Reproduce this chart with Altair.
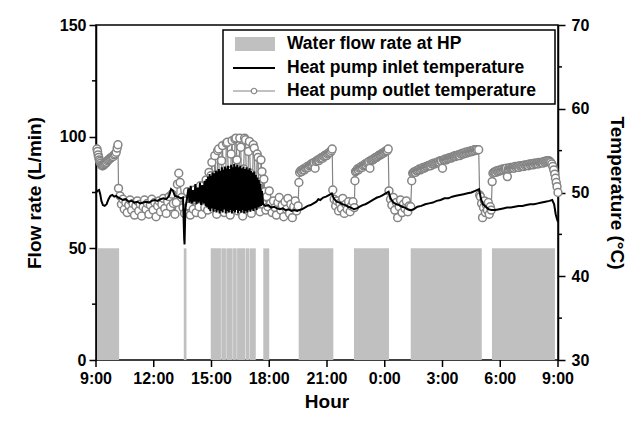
import altair as alt
import pandas as pd

# ---------------- data ----------------
bar_start = [9.05, 13.56, 14.96, 15.51, 15.77, 16.12, 16.33, 16.78, 16.97, 17.69, 19.53, 22.40, 25.35, 29.57]
bar_end   = [10.20, 13.70, 15.49, 15.75, 16.10, 16.31, 16.76, 16.95, 17.30, 18.00, 21.33, 24.22, 29.04, 32.84]
bar_flow  = [50, 50, 50, 50, 50, 50, 50, 50, 50, 50, 50, 50, 50, 50]

inlet_hour = [
    9.00, 9.08, 9.16, 9.22, 9.28, 9.36, 9.45, 9.55, 9.65, 9.75, 9.85, 9.95, 10.05, 10.15,
    10.25, 10.40, 10.55, 10.70, 10.85, 11.00, 11.15, 11.30, 11.45, 11.60, 11.75, 11.90,
    12.05, 12.20, 12.35, 12.50, 12.65, 12.80, 12.90, 13.00, 13.10, 13.25, 13.40, 13.52,
    13.58, 13.60, 13.64,
    13.72, 13.80, 13.86, 13.92, 13.98, 14.04, 14.10, 14.16, 14.22, 14.28, 14.34, 14.40,
    14.46, 14.52, 14.58, 14.64, 14.70,
    14.74, 14.78, 14.82, 14.86, 14.90, 14.94, 14.98, 15.02, 15.06, 15.10, 15.14, 15.18,
    15.22, 15.26, 15.30, 15.34, 15.38, 15.42, 15.46, 15.50, 15.54, 15.58, 15.62, 15.66,
    15.70, 15.74, 15.78, 15.82, 15.86, 15.90, 15.94, 15.98, 16.02, 16.06, 16.10, 16.14,
    16.18, 16.22, 16.26, 16.30, 16.34, 16.38, 16.42, 16.46, 16.50, 16.54, 16.58, 16.62,
    16.66, 16.70, 16.74, 16.78, 16.82, 16.86, 16.90, 16.94, 16.98, 17.02, 17.06, 17.10,
    17.14, 17.18, 17.22, 17.26, 17.30, 17.34, 17.38, 17.42, 17.46, 17.50, 17.54, 17.58,
    17.62, 17.68, 17.80, 17.95, 18.10, 18.25, 18.40, 18.55, 18.70, 18.85, 19.00,
    19.15, 19.30, 19.45, 19.55,
    19.70, 19.85, 20.00, 20.15, 20.30, 20.45, 20.55, 20.65, 20.80, 20.95, 21.10, 21.25,
    21.35, 21.50, 21.65, 21.80, 21.95, 22.10, 22.25, 22.40,
    22.55, 22.70, 22.85, 23.00, 23.15, 23.30, 23.45, 23.60, 23.75, 23.90, 24.05, 24.20,
    24.30, 24.45, 24.60, 24.75, 24.90, 25.05, 25.20, 25.35,
    25.50, 25.70, 25.90, 26.10, 26.30, 26.50, 26.70, 26.90, 27.10, 27.30, 27.50, 27.70,
    27.90, 28.10, 28.30, 28.50, 28.70, 28.90,
    29.00, 29.10, 29.25, 29.40, 29.55,
    29.75, 29.95, 30.15, 30.35, 30.55, 30.75, 30.95, 31.15, 31.35, 31.55, 31.75, 31.95,
    32.15, 32.35, 32.55, 32.70, 32.80, 32.88, 32.95, 33.00]
inlet_temp = [
    50.0, 50.2, 50.3, 49.8, 49.0, 48.5, 48.4, 48.6, 49.2, 49.6, 49.7, 49.5, 49.6, 49.4,
    49.3, 49.1, 49.2, 48.9, 49.0, 48.8, 48.9, 48.7, 48.8, 48.9, 48.8, 49.0,
    49.1, 49.0, 49.2, 49.3, 49.2, 49.6, 50.4, 50.2, 49.6, 49.5, 49.3, 49.4,
    44.5, 43.8, 48.0,
    49.2, 50.5, 48.8, 50.8, 48.7, 50.3, 48.9, 51.0, 48.6, 50.6, 48.8, 51.2,
    48.5, 50.9, 48.7, 51.4, 48.4,
    51.6, 48.2, 51.9, 48.0, 52.2, 47.8, 52.0, 48.1, 52.4, 47.7, 52.3, 48.0,
    52.6, 47.6, 52.5, 47.9, 52.8, 47.5, 52.6, 47.8, 53.0, 47.6, 52.7, 48.0,
    53.1, 47.5, 52.9, 47.8, 53.2, 47.6, 52.8, 47.9, 53.3, 47.5, 53.0, 47.8,
    53.4, 47.6, 53.1, 47.9, 53.3, 47.5, 53.0, 47.8, 53.2, 47.6, 52.9, 47.9,
    53.1, 47.5, 52.8, 47.8, 53.0, 47.6, 52.7, 47.9, 52.9, 47.7, 52.6, 48.0,
    52.4, 47.8, 52.5, 48.1, 52.1, 47.9, 51.8, 48.2, 51.5, 48.3, 51.0, 48.4,
    50.2, 48.6, 48.4, 48.5, 48.2, 48.3, 48.1, 48.0, 48.1, 47.9, 48.0,
    47.8, 47.9, 47.8, 47.9,
    48.0, 48.2, 48.4, 48.5, 48.7, 48.9, 49.2, 49.1, 49.4, 49.5, 49.7, 49.9,
    49.3, 48.9, 48.8, 48.6, 48.5, 48.3, 48.2, 48.0,
    48.1, 48.3, 48.5, 48.6, 48.8, 49.0, 49.2, 49.4, 49.5, 49.7, 49.9, 50.1,
    49.3, 48.8, 48.6, 48.5, 48.3, 48.2, 48.0, 47.9,
    48.0, 48.3, 48.4, 48.6, 48.7, 48.8, 49.0, 49.1, 49.3, 49.3, 49.5, 49.6,
    49.7, 49.8, 49.9, 50.0, 50.2, 50.4,
    49.2, 48.6, 48.3, 48.0, 47.9,
    47.9, 48.0, 48.1, 48.2, 48.2, 48.3, 48.4, 48.4, 48.5, 48.6, 48.6, 48.7,
    48.8, 48.9, 49.0, 49.1, 48.6, 47.4, 46.8, 46.5]

outlet_hour = [
    9.05, 9.08, 9.11, 9.14, 9.17, 9.20, 9.24, 9.28, 9.32, 9.36, 9.40, 9.45, 9.50, 9.55,
    9.60, 9.65, 9.70, 9.75, 9.80, 9.85, 9.90, 9.95, 10.00, 10.05, 10.10, 10.14, 10.17,
    10.25, 10.32, 10.40, 10.47, 10.55, 10.62, 10.70, 10.77, 10.85, 10.92, 11.00, 11.07, 11.15,
    11.22, 11.30, 11.37, 11.45, 11.52, 11.60, 11.67, 11.75, 11.82, 11.90, 11.97, 12.05, 12.12,
    12.20, 12.27, 12.35, 12.42, 12.50, 12.57, 12.65, 12.72, 12.80, 12.87, 12.95, 13.02, 13.10,
    13.17, 13.23, 13.30, 13.37, 13.45, 13.52, 13.60, 13.67, 13.75, 13.82, 13.90, 13.97, 14.05,
    14.12, 14.20, 14.27, 14.35, 14.42, 14.50, 14.57, 14.65, 14.72, 14.80, 14.87,
    14.93, 14.97, 15.02, 15.07, 15.12, 15.17, 15.22, 15.27, 15.32, 15.37, 15.42, 15.47, 15.52,
    15.57, 15.62, 15.67, 15.72, 15.77, 15.82, 15.87, 15.92, 15.97, 16.02, 16.07, 16.12, 16.17,
    16.22, 16.27, 16.32, 16.37, 16.42, 16.47, 16.52, 16.57, 16.62, 16.67, 16.72, 16.77, 16.82,
    16.87, 16.92, 16.97, 17.02, 17.07, 17.12, 17.17, 17.22, 17.27, 17.32, 17.37, 17.42, 17.47,
    17.52, 17.57, 17.62, 17.67, 17.72, 17.77, 17.82, 17.87, 17.93, 18.00,
    18.07, 18.15, 18.22, 18.30, 18.37, 18.45, 18.52, 18.60, 18.67, 18.75, 18.82, 18.90, 18.97,
    19.05, 19.12, 19.20, 19.27, 19.35, 19.42, 19.50,
    19.54, 19.58, 19.63, 19.68, 19.73, 19.78, 19.83, 19.88, 19.93, 19.98, 20.03, 20.08, 20.13,
    20.18, 20.23, 20.28, 20.33, 20.38, 20.43, 20.48, 20.53, 20.58, 20.63, 20.68, 20.73, 20.78,
    20.83, 20.88, 20.93, 20.98, 21.03, 21.08, 21.13, 21.18, 21.23, 21.27,
    21.30,
    21.37, 21.45, 21.52, 21.60, 21.67, 21.75, 21.82, 21.90, 21.97, 22.05, 22.12, 22.20, 22.27,
    22.35, 22.42,
    22.45, 22.48, 22.53, 22.58, 22.63, 22.68, 22.73, 22.78, 22.83, 22.88, 22.93, 22.98, 23.03,
    23.08, 23.13, 23.18, 23.23, 23.28, 23.33, 23.38, 23.43, 23.48, 23.53, 23.58, 23.63, 23.68,
    23.73, 23.78, 23.83, 23.88, 23.93, 23.98, 24.03, 24.08, 24.13, 24.18,
    24.22,
    24.30, 24.37, 24.45, 24.52, 24.60, 24.67, 24.75, 24.82, 24.90, 24.97, 25.05, 25.12, 25.20,
    25.27, 25.35,
    25.40, 25.45, 25.50, 25.55, 25.60, 25.65, 25.70, 25.75, 25.80, 25.85, 25.90, 25.95, 26.00,
    26.05, 26.10, 26.15, 26.20, 26.25, 26.30, 26.35, 26.40, 26.45, 26.50, 26.55, 26.60, 26.65,
    26.70, 26.75, 26.80, 26.85, 26.90, 26.95, 27.00, 27.05, 27.10, 27.15, 27.20, 27.25, 27.30,
    27.35, 27.40, 27.45, 27.50, 27.55, 27.60, 27.65, 27.70, 27.75, 27.80, 27.85, 27.90, 27.95,
    28.00, 28.05, 28.10, 28.15, 28.20, 28.25, 28.30, 28.35, 28.40, 28.45, 28.50, 28.55, 28.60,
    28.65, 28.70, 28.75, 28.80, 28.88,
    28.93,
    28.97, 29.03, 29.08, 29.13, 29.18, 29.23, 29.28, 29.33, 29.38, 29.43, 29.48, 29.53,
    29.58, 29.62, 29.67, 29.72, 29.77, 29.82, 29.87, 29.92, 29.97, 30.02, 30.07, 30.12, 30.17,
    30.22, 30.27, 30.32, 30.37, 30.42, 30.47, 30.52, 30.57, 30.62, 30.67, 30.72, 30.77, 30.82,
    30.87, 30.92, 30.97, 31.02, 31.07, 31.12, 31.17, 31.22, 31.27, 31.32, 31.37, 31.42, 31.47,
    31.52, 31.57, 31.62, 31.67, 31.72, 31.77, 31.82, 31.87, 31.92, 31.97, 32.02, 32.07, 32.12,
    32.17, 32.22, 32.27, 32.32, 32.37, 32.42, 32.47, 32.52, 32.57, 32.62, 32.68, 32.73, 32.78,
    32.83, 32.87, 32.91, 32.95, 33.00]
outlet_temp = [
    55.2, 54.9, 54.5, 54.2, 53.9, 53.7, 53.5, 53.3, 53.2, 53.2, 53.3, 53.4, 53.5, 53.6,
    53.8, 53.9, 54.0, 54.1, 54.2, 54.3, 54.3, 54.5, 54.6, 54.8, 55.3, 55.7, 50.5,
    49.6, 48.6, 49.2, 48.0, 48.8, 47.6, 48.5, 49.1, 47.9, 48.7, 47.3, 48.4, 49.0,
    47.8, 48.6, 47.2, 48.3, 49.1, 48.0, 48.7, 47.4, 48.5, 49.2, 47.9, 48.8, 47.1,
    48.4, 49.0, 47.7, 48.6, 49.3, 48.1, 47.5, 48.9, 49.5, 48.3, 49.8, 48.7, 47.4,
    48.8, 51.0, 52.3, 51.2, 49.4, 48.2, 47.5, 49.0, 50.1, 48.4, 47.3, 49.2, 48.0,
    50.3, 47.6, 49.0, 48.3, 50.8, 47.4, 49.5, 48.2, 51.5, 47.9, 52.4,
    49.0, 52.0, 53.6, 50.6, 48.0, 54.4, 52.1, 47.4, 55.0, 55.2, 50.3, 48.4, 53.8,
    55.6, 51.4, 47.6, 49.8, 55.9, 56.0, 52.6, 48.2, 47.3, 54.6, 56.2, 50.9, 49.0,
    56.4, 56.5, 53.9, 47.8, 51.7, 56.5, 55.4, 48.7, 47.2, 52.8, 56.5, 56.3, 50.4,
    48.1, 54.9, 56.1, 52.3, 47.5, 49.6, 55.7, 55.3, 51.0, 48.3, 54.6, 54.2, 49.4,
    47.7, 53.9, 52.5, 48.6, 51.6, 50.1, 47.9, 49.5, 48.3, 50.2,
    48.7, 47.6, 49.0, 48.2, 47.3, 48.8, 49.4, 47.9, 48.5, 47.1, 48.9, 48.0, 49.3,
    47.5, 48.6, 47.0, 48.3, 49.0, 47.8, 48.4,
    51.2, 52.4, 52.6, 52.5, 52.7, 52.8, 52.7, 52.9, 53.0, 53.1, 53.0, 53.2, 53.3,
    53.4, 53.3, 53.5, 53.6, 52.9, 53.7, 53.8, 53.9, 53.8, 54.0, 54.1, 54.2, 54.1,
    54.3, 54.4, 54.5, 54.4, 54.6, 54.7, 54.8, 54.8, 55.0, 55.2,
    50.3,
    49.2, 48.4, 49.0, 47.8, 48.7, 48.1, 49.3, 47.5, 48.6, 48.0, 48.9, 47.7, 48.4,
    48.9, 48.2,
    51.4, 52.5, 52.6, 52.8, 52.7, 52.9, 53.0, 53.1, 53.0, 53.2, 53.3, 53.4, 53.3,
    53.5, 53.6, 53.7, 52.9, 53.8, 53.9, 53.9, 54.0, 54.1, 54.2, 54.2, 54.3, 54.4,
    54.5, 54.5, 54.6, 54.7, 54.7, 54.8, 54.9, 55.0, 55.0, 55.2,
    50.2,
    49.2, 48.5, 49.4, 47.9, 48.8, 47.0, 48.3, 49.1, 47.6, 48.6, 48.1, 49.0, 47.7,
    48.4, 48.3,
    51.4, 52.3, 52.4, 52.5, 52.4, 52.6, 52.6, 52.7, 52.8, 52.7, 52.8, 52.9, 53.0,
    52.9, 53.0, 53.1, 53.1, 53.2, 53.2, 53.3, 53.2, 53.4, 53.4, 53.5, 53.4, 53.5,
    53.6, 53.6, 53.7, 53.6, 53.8, 53.8, 52.9, 53.9, 53.9, 54.0, 53.9, 54.0, 54.1,
    54.1, 54.2, 54.1, 54.2, 54.3, 54.3, 54.4, 54.3, 54.4, 54.5, 54.5, 54.4, 54.6,
    54.6, 54.7, 54.6, 54.7, 54.8, 54.7, 54.8, 54.9, 54.8, 54.9, 55.0, 54.9, 55.0,
    55.1, 55.0, 55.1, 55.1, 55.1,
    49.7,
    49.5, 48.7, 47.0, 48.2, 49.0, 47.6, 48.5, 47.9, 48.8, 47.4, 48.3, 47.9,
    51.3, 52.3, 52.4, 52.5, 52.4, 52.6, 52.5, 52.6, 52.7, 52.6, 52.7, 52.8, 52.7,
    52.8, 52.8, 52.9, 51.9, 52.8, 52.9, 53.0, 52.9, 53.0, 53.0, 52.9, 53.1, 53.0,
    53.1, 53.1, 53.0, 53.2, 53.1, 53.2, 53.2, 53.1, 53.3, 53.2, 53.3, 53.3, 53.2,
    53.4, 53.3, 53.4, 53.4, 53.3, 53.5, 53.4, 53.5, 53.5, 53.4, 53.6, 53.5, 53.6,
    53.6, 53.5, 53.7, 53.6, 53.7, 53.8, 53.7, 53.8, 53.7, 53.6, 53.4, 53.1, 52.7,
    52.2, 51.7, 51.2, 50.7, 50.0]

x_ticks = [9, 12, 15, 18, 21, 24, 27, 30, 33]
x_labels = ["9:00", "12:00", "15:00", "18:00", "21:00", "0:00", "3:00", "6:00", "9:00"]
flow_ticks = [0, 50, 100, 150]
flow_minor = [25, 75, 125]
temp_ticks = [30, 40, 50, 60, 70]
temp_minor = [35, 45, 55, 65]
legend_labels = ["Water flow rate at HP", "Heat pump inlet temperature", "Heat pump outlet temperature"]

# ---------------- chart ----------------
FONT = "Liberation Sans"
W, H = 462, 335
BAR_GRAY = "#c0c0c0"
OUT_GRAY = "#848484"

bars_df = pd.DataFrame({"start": bar_start, "end": bar_end, "flow": bar_flow})
inlet_df = pd.DataFrame({"hour": inlet_hour, "temp": inlet_temp})
outlet_df = pd.DataFrame({"hour": outlet_hour, "temp": outlet_temp})
fminor_df = pd.DataFrame({"flow": flow_minor})
tminor_df = pd.DataFrame({"temp": temp_minor})
xtick_df = pd.DataFrame({"hour": x_ticks, "label": x_labels})
one = pd.DataFrame({"k": [0]})

xscale = alt.Scale(domain=[9, 33], nice=False, zero=False)
fscale = alt.Scale(domain=[0, 150], nice=False)
tscale = alt.Scale(domain=[30, 70], nice=False, zero=False)

axis_style = dict(domainColor="black", domainWidth=1.5, tickColor="black", tickWidth=1.5,
                  tickSize=7, labelFont=FONT, labelFontSize=16, labelFontWeight="bold",
                  labelColor="black", titleFont=FONT, titleFontSize=19, titleFontWeight="bold",
                  titleColor="black", grid=False)

bars = alt.Chart(bars_df).mark_rect(color=BAR_GRAY).encode(
    x=alt.X("start:Q", scale=xscale, axis=None),
    x2="end:Q",
    y=alt.Y("flow:Q", scale=fscale,
            axis=alt.Axis(orient="left", values=flow_ticks, title="Flow rate (L/min)",
                          labelPadding=3, titlePadding=15, **axis_style)),
    y2=alt.datum(0),
)
fminor = alt.Chart(fminor_df).mark_rule(color="black", strokeWidth=1.5).encode(
    y=alt.Y("flow:Q", scale=fscale, axis=None),
    x=alt.value(-4), x2=alt.value(0),
)
outlet = alt.Chart(outlet_df).mark_line(
    color=OUT_GRAY, strokeWidth=1.2,
    point=alt.OverlayMarkDef(shape="circle", filled=True, fill="white", stroke=OUT_GRAY,
                             strokeWidth=1.5, size=62, opacity=1),
).encode(
    x=alt.X("hour:Q", scale=xscale, axis=None),
    y=alt.Y("temp:Q", scale=tscale, axis=None),
)
inlet = alt.Chart(inlet_df).mark_line(color="black", strokeWidth=2).encode(
    x=alt.X("hour:Q", scale=xscale, axis=None),
    y=alt.Y("temp:Q", scale=tscale,
            axis=alt.Axis(orient="right", values=temp_ticks, title="Temperature (°C)",
                          labelPadding=6, titlePadding=18, **axis_style)),
)
tminor = alt.Chart(tminor_df).mark_rule(color="black", strokeWidth=1.5).encode(
    y=alt.Y("temp:Q", scale=tscale, axis=None),
    x=alt.value(W), x2=alt.value(W + 4),
)

# x axis drawn from the tick table through the shared x scale
xt_marks = alt.Chart(xtick_df).mark_rule(color="black", strokeWidth=1.5).encode(
    x=alt.X("hour:Q", scale=xscale, axis=None),
    y=alt.value(H), y2=alt.value(H + 7),
)
xt_labels = alt.Chart(xtick_df).mark_text(
    font=FONT, fontSize=16, fontWeight="bold", color="black", baseline="top",
).encode(
    x=alt.X("hour:Q", scale=xscale, axis=None),
    y=alt.value(H + 11),
    text="label:N",
)
x_title = alt.Chart(one).mark_text(
    text="Hour", font=FONT, fontSize=19, fontWeight="bold", color="black", baseline="top",
).encode(x=alt.value(W / 2), y=alt.value(H + 33))

# legend box
base = alt.Chart(one)
lg_box = base.mark_rect(fill="white", stroke="black", strokeWidth=1.5).encode(
    x=alt.value(127), x2=alt.value(459), y=alt.value(5), y2=alt.value(79))
lg_sw = base.mark_rect(fill=BAR_GRAY).encode(
    x=alt.value(139), x2=alt.value(179), y=alt.value(12), y2=alt.value(26))
lg_l1 = base.mark_rule(color="black", strokeWidth=2).encode(
    x=alt.value(137), x2=alt.value(179), y=alt.value(43))
lg_l2 = base.mark_rule(color=OUT_GRAY, strokeWidth=1.2).encode(
    x=alt.value(137), x2=alt.value(179), y=alt.value(66))
lg_pt = base.mark_point(shape="circle", filled=True, fill="white", stroke=OUT_GRAY,
                        strokeWidth=1.2, size=30, opacity=1).encode(
    x=alt.value(158), y=alt.value(66))
lg_texts = [
    base.mark_text(text=lab, align="left", baseline="middle", font=FONT, fontSize=17.5,
                   fontWeight="bold", color="black").encode(x=alt.value(191), y=alt.value(yy))
    for lab, yy in zip(legend_labels, [19, 43, 66])
]

chart = alt.layer(bars, fminor, outlet, inlet, tminor, xt_marks, xt_labels, x_title,
                  lg_box, lg_sw, lg_l1, lg_l2, lg_pt, *lg_texts).resolve_scale(
    y="independent").properties(
    width=W, height=H, autosize="none",
    padding={"left": 96, "top": 25, "right": 75, "bottom": 71},
    background="white",
).configure_view(stroke="black", strokeWidth=1.5)

chart.save("out.html", embed_options={"renderer": "svg", "actions": False})
